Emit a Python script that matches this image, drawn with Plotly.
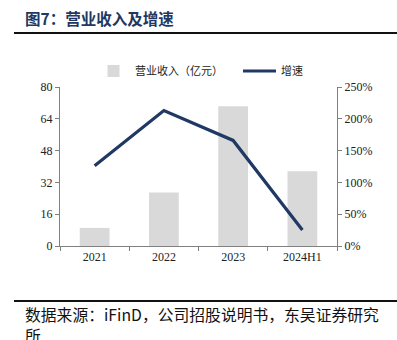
import plotly.graph_objects as go

categories = ["2021", "2022", "2023", "2024H1"]
revenue = [9.1, 26.9, 70.3, 37.6]          # 营业收入（亿元）
growth = [1.26, 2.13, 1.66, 0.25]           # 增速
left_ticks = [0, 16, 32, 48, 64, 80]
right_ticks = [0, 0.5, 1.0, 1.5, 2.0, 2.5]
right_labels = ["0%", "50%", "100%", "150%", "200%", "250%"]

W, H = 397, 340
L, R, T, B = 60, 337, 87, 246
pw, ph = R - L, B - T

def px(x):
    return (x - L) / pw

def py(y):
    return (B - y) / ph

serif = "Liberation Serif, Times New Roman, serif"
cjk = "Noto Sans CJK SC"
navy = "#1F3864"
axis_col = "#808080"

fig = go.Figure()
fig.add_trace(go.Bar(
    x=categories, y=revenue, name="营业收入（亿元）",
    marker=dict(color="#D9D9D9", line=dict(width=0)),
    width=0.43, yaxis="y", legend="legend",
))
fig.add_trace(go.Scatter(
    x=categories, y=growth, name="增速", mode="lines",
    line=dict(color=navy, width=3.2), yaxis="y2", legend="legend2",
))

leg_common = dict(
    orientation="h", yanchor="middle", xanchor="left",
    font=dict(family=cjk, size=11, color="#222"),
    itemwidth=33, bgcolor="rgba(0,0,0,0)",
)

fig.update_layout(
    width=W, height=H,
    margin=dict(l=L, r=W - R, t=T, b=H - B),
    paper_bgcolor="white", plot_bgcolor="white",
    showlegend=True,
    legend=dict(x=px(92), y=py(71), **leg_common),
    legend2=dict(x=px(238), y=py(71), **leg_common),
    xaxis=dict(
        type="category", tickson="boundaries", ticks="outside", ticklen=4,
        tickcolor=axis_col, showline=True, linecolor=axis_col, linewidth=1,
        tickfont=dict(family=serif, size=12, color="#222"),
        showgrid=False, range=[-0.5, 3.5],
    ),
    yaxis=dict(
        range=[0, 80], tickvals=left_ticks, ticks="outside", ticklen=4,
        tickcolor=axis_col, showline=True, linecolor=axis_col, linewidth=1,
        tickfont=dict(family=serif, size=12, color="#222"),
        showgrid=False, zeroline=False,
    ),
    yaxis2=dict(
        range=[0, 2.5], tickvals=right_ticks, ticktext=right_labels,
        overlaying="y", side="right", ticks="outside", ticklen=4,
        tickcolor=axis_col, showline=True, linecolor=axis_col, linewidth=1,
        tickfont=dict(family=serif, size=12, color="#222"),
        showgrid=False, zeroline=False,
    ),
    shapes=[
        dict(type="line", xref="paper", yref="paper", x0=px(14), x1=px(397),
             y0=py(33), y1=py(33), line=dict(color="#111", width=2)),
        dict(type="line", xref="paper", yref="paper", x0=px(14), x1=px(397),
             y0=py(301), y1=py(301), line=dict(color="#111", width=2)),
    ],
    annotations=[
        dict(text="<b>图7：营业收入及增速</b>", xref="paper", yref="paper",
             x=px(23), y=py(18), xanchor="left", yanchor="middle", showarrow=False,
             font=dict(family=cjk, size=15.5, color=navy)),
        dict(text="数据来源：iFinD，公司招股说明书，东吴证券研究", xref="paper", yref="paper",
             x=px(23), y=py(314), xanchor="left", yanchor="middle", showarrow=False, align="left",
             font=dict(family=cjk, size=15.8, color="#111")),
        dict(text="所", xref="paper", yref="paper",
             x=px(23), y=py(335), xanchor="left", yanchor="middle", showarrow=False, align="left",
             font=dict(family=cjk, size=15.8, color="#111")),
    ],
)

fig.write_html("out.html")
